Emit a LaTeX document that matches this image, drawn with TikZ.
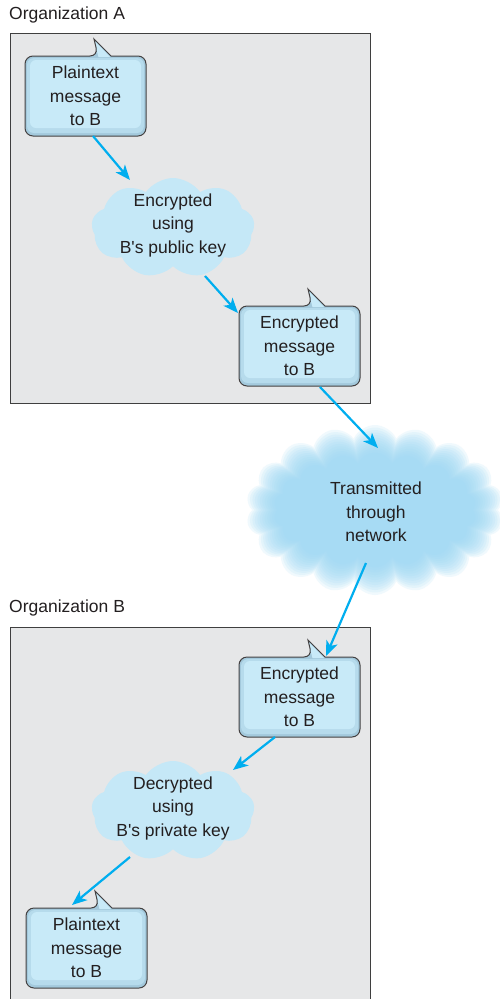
\documentclass[tikz,border=0pt]{standalone}
\usepackage{fontspec}
\setmainfont{Liberation Sans}[Ligatures=TeXOff]
\usetikzlibrary{shapes.symbols,arrows.meta,calc}
\definecolor{txt}{HTML}{231F20}
\definecolor{orgfill}{HTML}{E6E7E8}
\definecolor{orgedge}{HTML}{3F3F3F}
\definecolor{bubA}{HTML}{A3C9DC}
\definecolor{bubB}{HTML}{B6DBEC}
\definecolor{bubC}{HTML}{C8EAF8}
\definecolor{cloudc}{HTML}{C5E8F7}
\definecolor{netc}{HTML}{9AD7F4}
\definecolor{arrc}{HTML}{00AEEF}
\tikzset{
  bubtext/.style={minimum width=121pt,minimum height=80pt,inner sep=0pt,align=center,text=txt,font=\fontsize{17.5}{23.5}\selectfont},
  cloudtext/.style={align=center,text=txt,font=\fontsize{17.5}{23.5}\selectfont,inner sep=0pt},
  cloudbg/.style={cloud,cloud puffs=9,cloud puff arc=110,fill=cloudc,draw=none,inner sep=0pt,minimum width=163pt,minimum height=100pt},
  netlayer/.style={cloud,cloud puffs=18,cloud puff arc=130,fill=netc,fill opacity=0.14,draw=none,inner sep=0pt},
  orglabel/.style={anchor=west,text=txt,font=\fontsize{17.5}{21}\selectfont,inner sep=0pt},
  orgbox/.style={fill=orgfill,draw=none},
  orgline/.style={draw=orgedge,line width=1pt},
  arr/.style={draw=arrc,line width=2.2pt,-{Stealth[length=15pt,width=12pt,inset=4pt]}},
  bubedge/.style={draw=txt!85,line width=1pt}
}
\newcommand\mybubble[3]{%
  \begin{scope}[shift={#2}]
    \fill[bubA] (86,0) [rounded corners=8] -- (121,0) -- (121,80) -- (0,80) -- (0,0) -- (73,0) [sharp corners] -- (69,-17) -- cycle;
    \fill[bubB,rounded corners=7] (2,2) rectangle (119,77);
    \fill[bubC,rounded corners=6] (5,4) rectangle (116,72);
    \fill[bubC] (73.5,1) -- (69,-16) -- (85,1) -- cycle;
    \draw[bubedge] (86,0) [rounded corners=8] -- (121,0) -- (121,80) -- (0,80) -- (0,0) -- (73,0) [sharp corners] -- (69,-17) -- cycle;
    \node[bubtext] (#1) at (60.5,40) {#3};
  \end{scope}}
\begin{document}
\begin{tikzpicture}[x=1pt,y=-1pt]
\useasboundingbox (0,0) rectangle (499,999);
\fill[white] (0,0) rectangle (499,999);
% organization frames
\node[orglabel] (labA) at (9,15) {Organization A};
\fill[orgbox] (10,33) rectangle (370,403);
\draw[orgline] (10,33) rectangle (370,403);
\node[orglabel] (labB) at (9,608) {Organization B};
\fill[orgbox] (10,627) rectangle (370,999);
\draw[orgline] (10,999) -- (10,627) -- (370,627) -- (370,999);
% bubbles
\mybubble{pA}{(25,56)}{Plaintext\\message\\to B}
\mybubble{eA}{(239,306)}{Encrypted\\message\\to B}
\mybubble{eB}{(239,657)}{Encrypted\\message\\to B}
\mybubble{pB}{(26,908)}{Plaintext\\message\\to B}
% clouds
\node[cloudbg] (cAbg) at (173,228) {};
\node[cloudtext] (cA) at (173,225) {Encrypted\\using\\B's public key};
\node[cloudbg] (cBbg) at (173,811) {};
\node[cloudtext] (cB) at (173,808) {Decrypted\\using\\B's private key};
% network cloud (fuzzy)
\foreach \i in {0,...,11}{
  \node[netlayer,minimum width={258pt-5pt*\i},minimum height={170pt-5pt*\i}] at (375,510) {};
}
\node[cloudtext] (net) at (376,512) {Transmitted\\through\\network};
% arrows
\draw[arr] ($(pA.center)+(7.5,40)$) -- ($(cA.center)+(-43,-45)$);
\draw[arr] ($(cA.center)+(32,51)$) -- ($(eA.center)+(-61.5,-33)$);
\draw[arr] ($(eA.center)+(20.5,41)$) -- ($(net.center)+(2,-64)$);
\draw[arr] ($(net.center)+(-10,51)$) -- ($(eB.center)+(26.5,-41)$);
\draw[arr] ($(eB.center)+(-24.5,40)$) -- ($(cB.center)+(60,-38)$);
\draw[arr] ($(cB.center)+(-43,49)$) -- ($(pB.center)+(-14.5,-43)$);
\end{tikzpicture}
\end{document}
